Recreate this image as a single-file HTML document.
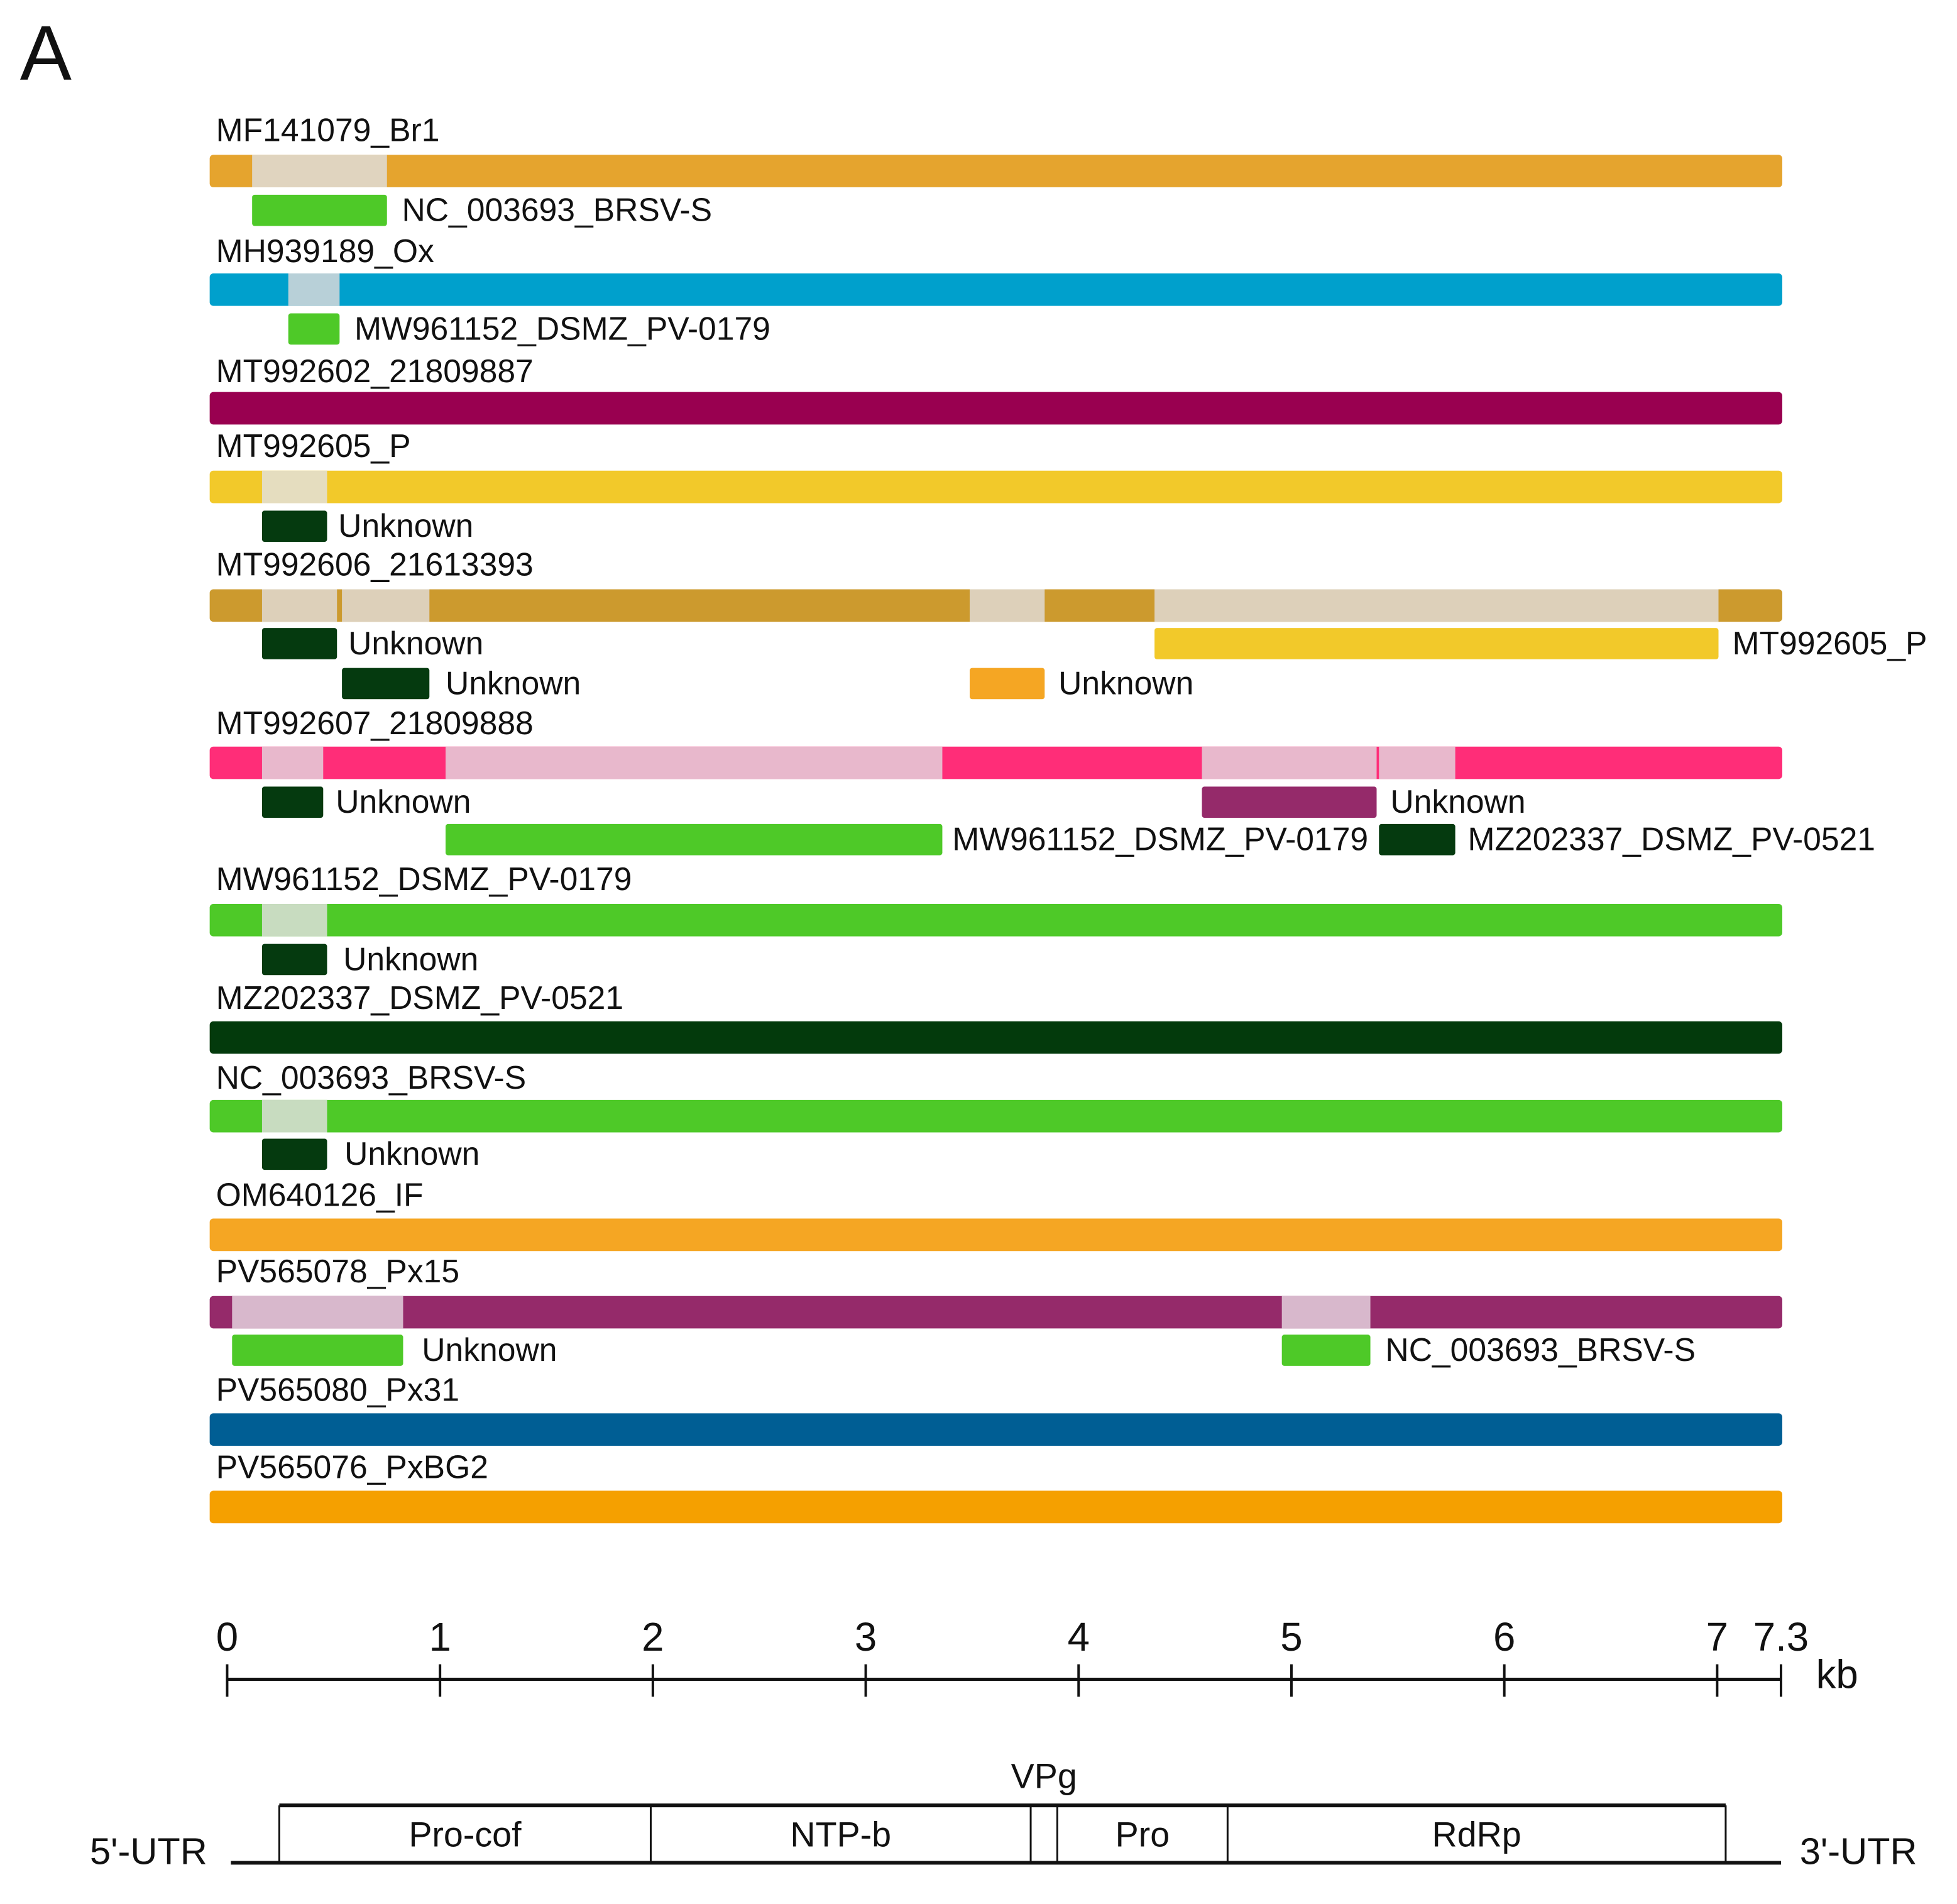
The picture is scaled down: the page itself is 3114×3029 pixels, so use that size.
<!DOCTYPE html>
<html><head><meta charset="utf-8"><style>
html,body{margin:0;padding:0;background:#fff}
svg{display:block}
text{font-family:"Liberation Sans",Arial,sans-serif;fill:#111}
</style></head><body>
<svg id="c" width="3114" height="3029" viewBox="0 0 1568 1525" preserveAspectRatio="none" xmlns="http://www.w3.org/2000/svg">
<text x="16" y="64" font-size="62">A</text>
</svg>
<script>
// genome isolates (kb coordinates), colors
const isolates = ["MF141079_Br1","MH939189_Ox","MT992602_21809887","MT992605_P","MT992606_21613393","MT992607_21809888","MW961152_DSMZ_PV-0179","MZ202337_DSMZ_PV-0521","NC_003693_BRSV-S","OM640126_IF","PV565078_Px15","PV565080_Px31","PV565076_PxBG2"];
const barColors = ["#E5A42E","#00A0CC","#990050","#F2C92A","#CC9A2E","#FF2D78","#4EC928","#033A0C","#4EC928","#F5A623","#952A6A","#005E94","#F5A000"];
const lightColors = ["#E0D4BF","#B8D0D8","","#E5DDBF","#DDD0BA","#E8B8CC","#C8DCC0","","#C8DCC0","","#D8B8CC","",""];
const labelY = [104,201,297,357,452,579,704,799,863,957,1018,1113,1175];
const barY = [124,219,314,377,472,598,724,818,881,976,1038,1132,1194];
// recombinant regions [row, startKb, endKb]
const regions = [[0,0.197,0.823],[1,0.365,0.603],[3,0.243,0.545],[4,0.243,0.591],[4,0.614,1.02],[4,3.528,3.876],[4,4.386,7.004],[5,0.243,0.527],[5,1.095,3.401],[5,4.606,5.417],[5,5.428,5.782],[6,0.243,0.545],[8,0.243,0.545],[10,0.104,0.898],[10,4.977,5.388]];
// parent bars [row, startKb, endKb, color, label, yTop, labelX]
const parents = [
[0,0.197,0.823,"#4EC928","NC_003693_BRSV-S",156,322],
[1,0.365,0.603,"#4EC928","MW961152_DSMZ_PV-0179",251,284],
[3,0.243,0.545,"#053A0F","Unknown",409,271],
[4,0.243,0.591,"#053A0F","Unknown",503,279],
[4,0.614,1.02,"#053A0F","Unknown",535,357],
[4,3.528,3.876,"#F5A623","Unknown",535,848],
[4,4.386,7.004,"#F2C92A","MT992605_P",503,1388],
[5,0.243,0.527,"#053A0F","Unknown",630,269],
[5,4.606,5.417,"#952A6A","Unknown",630,1114],
[5,1.095,3.401,"#4EC928","MW961152_DSMZ_PV-0179",660,763],
[5,5.428,5.782,"#053A0F","MZ202337_DSMZ_PV-0521",660,1176],
[6,0.243,0.545,"#053A0F","Unknown",756,275],
[8,0.243,0.545,"#053A0F","Unknown",912,276],
[10,0.104,0.898,"#4EC928","Unknown",1069,338],
[10,4.977,5.388,"#4EC928","NC_003693_BRSV-S",1069,1110]];
const genomeLen = 7.3;
const axisTicks = [0,1,2,3,4,5,6,7,7.3];
const domains = ["Pro-cof","NTP-b","","Pro","RdRp"];
const domainBounds = [0.245,1.99,3.775,3.9,4.7,7.04];

const svg=document.getElementById('c');
const NS="http://www.w3.org/2000/svg";
const xb = kb => 168 + kb*(1260/genomeLen);
const xa = kb => 182 + kb*(1245/genomeLen);
function mk(tag,attrs,txt){const e=document.createElementNS(NS,tag);for(const k in attrs)e.setAttribute(k,attrs[k]);if(txt!==undefined)e.textContent=txt;svg.appendChild(e);return e;}

isolates.forEach((name,i)=>{
  const t=mk('text',{x:173,y:labelY[i]+9,'font-size':26},name);
  
  
  const r=mk('rect',{x:xb(0),y:barY[i],width:xb(genomeLen)-xb(0),height:26,rx:3,fill:barColors[i]});
  
  
});
regions.forEach(g=>{
  const r=mk('rect',{x:xb(g[1]),y:barY[g[0]],width:xb(g[2])-xb(g[1]),height:26,fill:lightColors[g[0]]});
  
  
});
parents.forEach(p=>{
  const r=mk('rect',{x:xb(p[1]),y:p[5],width:xb(p[2])-xb(p[1]),height:25,rx:2,fill:p[3]});
  
  
  const t=mk('text',{x:p[6],y:p[5]+21,'font-size':26},p[4]);
  
  
});
// axis
const ax=mk('line',{x1:xa(0),x2:xa(genomeLen),y1:1345,y2:1345,stroke:'#111','stroke-width':2.5});


axisTicks.forEach(v=>{
  const l=mk('line',{x1:xa(v),x2:xa(v),y1:1333,y2:1359,stroke:'#111','stroke-width':2});
  
  
  const t=mk('text',{x:xa(v),y:1322,'font-size':32,'text-anchor':'middle'},String(v));
  
  
});
const kb=mk('text',{x:1455,y:1352,'font-size':32},'kb');


// domain map
const l1=mk('line',{x1:xa(domainBounds[0]),x2:xa(domainBounds[5]),y1:1446,y2:1446,stroke:'#111','stroke-width':3});


const l2=mk('line',{x1:185,x2:1427,y1:1492,y2:1492,stroke:'#111','stroke-width':3});


domainBounds.forEach(b=>{
  const l=mk('line',{x1:xa(b),x2:xa(b),y1:1446,y2:1492,stroke:'#111','stroke-width':1.5});
  
  
});
domains.forEach((d,i)=>{
  if(!d)return;
  const t=mk('text',{x:(xa(domainBounds[i])+xa(domainBounds[i+1]))/2,y:1479,'font-size':28,'text-anchor':'middle'},d);
  
  
});
const vpg=mk('text',{x:(xa(domainBounds[2])+xa(domainBounds[3]))/2,y:1432,'font-size':28,'text-anchor':'middle'},'VPg');


const u5=mk('text',{x:72,y:1493,'font-size':30},"5'-UTR");


const u3=mk('text',{x:1442,y:1493,'font-size':30},"3'-UTR");


</script>
</body></html>
